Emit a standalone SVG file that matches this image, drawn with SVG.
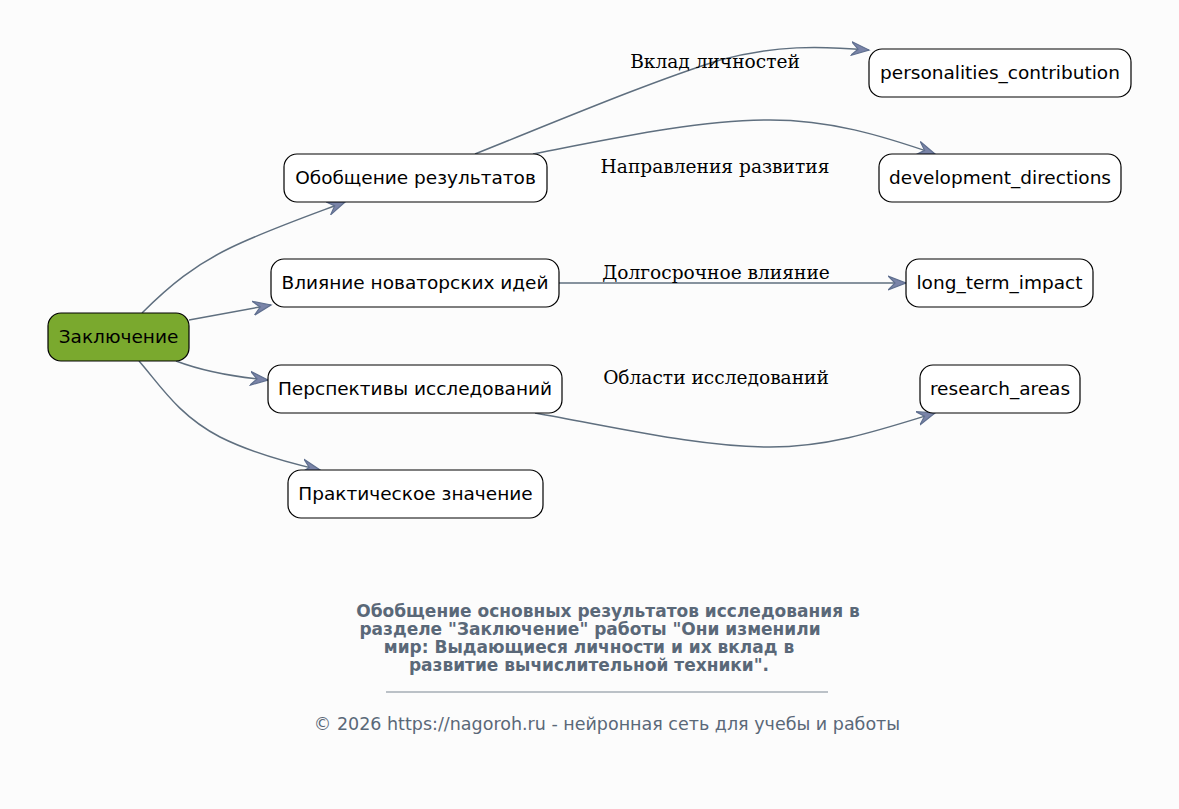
<svg xmlns="http://www.w3.org/2000/svg" width="1179" height="809" viewBox="0 0 1179 809">
<style>
.node rect{fill:#ffffff;stroke:#000;stroke-width:1.2}
.node text{font-family:"DejaVu Sans",sans-serif;font-size:18.5px;fill:#000;text-anchor:middle;dominant-baseline:central}
.edge{fill:none;stroke:#5f6f7f;stroke-width:1.5}
.elabel{font-family:"DejaVu Serif","Liberation Serif",serif;font-size:18.6px;fill:#000;text-anchor:middle}
.title{font-family:"DejaVu Sans",sans-serif;font-size:17px;font-weight:bold;fill:#5a6878;text-anchor:middle}
.foot{font-family:"DejaVu Sans",sans-serif;font-size:17.5px;fill:#5a6878;text-anchor:middle}
</style>
<defs>
<marker id="arr" viewBox="0 0 20 16" refX="18" refY="8" markerWidth="20" markerHeight="16" markerUnits="userSpaceOnUse" orient="auto">
<path d="M0,1 L18,8 L0,15 L7,8 z" fill="#7a84a8" stroke="#5f6f8f" stroke-width="1.2" stroke-linejoin="miter"/>
</marker>
</defs>
<rect width="1179" height="809" fill="#fcfcfc"/>
<g id="connectors">
<path class="edge" marker-end="url(#arr)" d="M142,313 C170,285 195,265 230,248 C265,231 305,217 345,202"/>
<path class="edge" marker-end="url(#arr)" d="M189,320 L271,305"/>
<path class="edge" marker-end="url(#arr)" d="M176,361 C205,372 235,377 268,380"/>
<path class="edge" marker-end="url(#arr)" d="M139,361 C160,385 178,415 220,437 C250,452 285,462 320,470"/>
<path class="edge" marker-end="url(#arr)" d="M475,154 C560,120 650,82 720,60 C775,45 820,46 869,50"/>
<path class="edge" marker-end="url(#arr)" d="M533,154 C620,137 700,120 770,120 C830,120 880,135 935,154"/>
<path class="edge" marker-end="url(#arr)" d="M559,283 L906,283"/>
<path class="edge" marker-end="url(#arr)" d="M535,413 C620,428 700,447 770,447 C830,447 880,430 935,413"/>
<text class="elabel" x="715" y="68">Вклад личностей</text>
<text class="elabel" x="715" y="173">Направления развития</text>
<text class="elabel" x="716" y="279">Долгосрочное влияние</text>
<text class="elabel" x="716" y="384">Области исследований</text>
</g>
<g id="n_conclusion" class="node"><rect x="48" y="313" width="141" height="48" rx="13" style="fill:#7aa92e"/><text x="118.5" y="336">Заключение</text></g>
<g id="n_summary" class="node"><rect x="284" y="154" width="263" height="48" rx="13"/><text x="415.5" y="177">Обобщение результатов</text></g>
<g id="n_influence" class="node"><rect x="271" y="259" width="288" height="48" rx="13"/><text x="415" y="282">Влияние новаторских идей</text></g>
<g id="n_prospects" class="node"><rect x="268" y="365" width="294" height="48" rx="13"/><text x="415" y="388">Перспективы исследований</text></g>
<g id="n_practical" class="node"><rect x="288" y="470" width="255" height="48" rx="13"/><text x="415.5" y="493">Практическое значение</text></g>
<g id="n_personalities" class="node"><rect x="869" y="49" width="262" height="48" rx="13"/><text x="1000" y="72">personalities_contribution</text></g>
<g id="n_development" class="node"><rect x="879" y="154" width="242" height="48" rx="13"/><text x="1000" y="177">development_directions</text></g>
<g id="n_longterm" class="node"><rect x="906" y="259" width="187" height="48" rx="13"/><text x="999.5" y="282">long_term_impact</text></g>
<g id="n_research" class="node"><rect x="920" y="365" width="160" height="48" rx="13"/><text x="1000" y="388">research_areas</text></g>
<g id="caption">
<text class="title" x="608" y="617">Обобщение основных результатов исследования в</text>
<text class="title" x="590" y="635">разделе "Заключение" работы "Они изменили</text>
<text class="title" x="589" y="653">мир: Выдающиеся личности и их вклад в</text>
<text class="title" x="589" y="671">развитие вычислительной техники".</text>
<line x1="386" y1="692" x2="828" y2="692" stroke="#7a8692" stroke-width="1"/>
<text class="foot" x="607" y="730">© 2026 https://nagoroh.ru - нейронная сеть для учебы и работы</text>
</g>
</svg>
